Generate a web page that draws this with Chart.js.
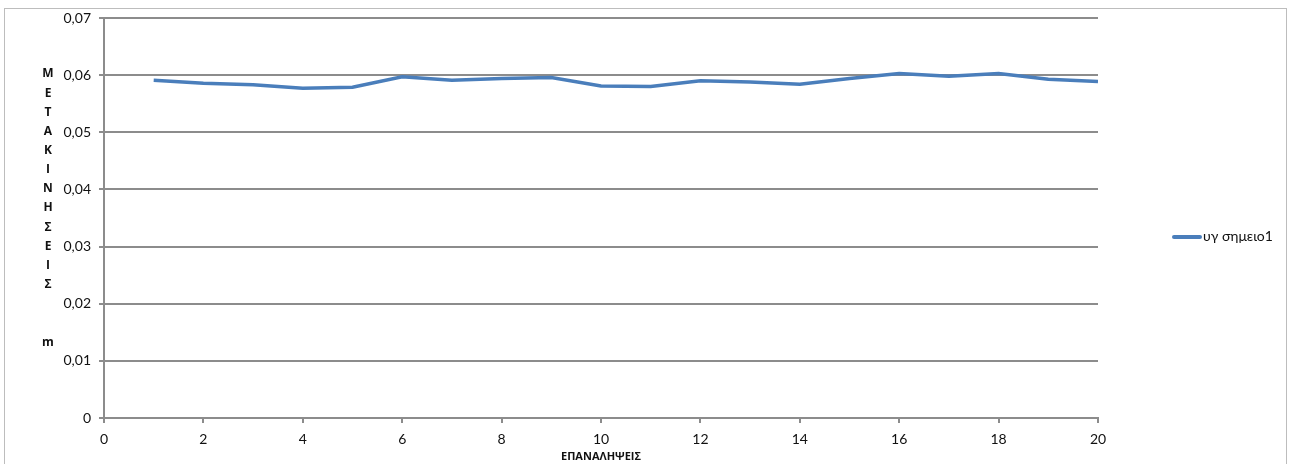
<!DOCTYPE html>
<html>
<head>
<meta charset="utf-8">
<script src="https://cdn.jsdelivr.net/npm/chart.js@4.4.1/dist/chart.umd.min.js"></script>
<style>
  html, body { margin: 0; padding: 0; background: #fff; }
  #wrap { position: relative; width: 1289px; height: 464px; overflow: hidden; }
  #frame { position: absolute; left: 4px; top: 8px; width: 1283px; height: 470px;
           border: 1px solid #bdbdbd; box-sizing: border-box; pointer-events: none; }
  canvas { position: absolute; left: 0; top: 0; }
</style>
</head>
<body>
<div id="wrap">
  <canvas id="c" width="1289" height="464"></canvas>
  <div id="frame"></div>
</div>
<script>
// Iteration numbers and measured displacement per iteration
const iterations = [1, 2, 3, 4, 5, 6, 7, 8, 9, 10, 11, 12, 13, 14, 15, 16, 17, 18, 19, 20];
const displacement = [0.0591, 0.0586, 0.0583, 0.0577, 0.0579, 0.0597, 0.0591, 0.0594, 0.0596, 0.0581,
                      0.0580, 0.0590, 0.0588, 0.0584, 0.0594, 0.0603, 0.0598, 0.0603, 0.0593, 0.0589];
const seriesName = 'υγ σημειο1';
const xTitle = 'ΕΠΑΝΑΛΗΨΕΙΣ';
const yTitle = 'ΜΕΤΑΚΙΝΗΣΕΙΣ  m';

const LINE_BLUE = '#4a7ebb';
const GRID_GRAY = '#8c8c8c';
const FONT = 'Lato, "Open Sans", sans-serif';
const TITLE_FONT = '"Open Sans", Lato, sans-serif';

Chart.defaults.font.family = FONT;
Chart.defaults.color = '#111';

// Stacked vertical axis title, one letter per line
const stackedYTitle = {
  id: 'stackedYTitle',
  afterDraw(chart) {
    const ctx = chart.ctx;
    ctx.save();
    ctx.font = 'bold 12px ' + TITLE_FONT;
    ctx.fillStyle = '#111';
    ctx.textAlign = 'center';
    ctx.textBaseline = 'middle';
    const chars = Array.from(yTitle);
    const step = 19.15;
    const y0 = 74;
    chars.forEach((ch, i) => {
      if (ch.trim()) ctx.fillText(ch, 48, y0 + i * step);
    });
    ctx.restore();
  }
};

// Legend entry to the right of the plot
const sideLegend = {
  id: 'sideLegend',
  afterDraw(chart) {
    const ctx = chart.ctx;
    const ds = chart.data.datasets[0];
    const x = chart.chartArea.right + 75;
    const y = 237;
    ctx.save();
    ctx.strokeStyle = ds.borderColor;
    ctx.lineWidth = 4;
    ctx.lineCap = 'round';
    ctx.beginPath();
    ctx.moveTo(x + 1, y);
    ctx.lineTo(x + 27, y);
    ctx.stroke();
    ctx.font = '14px ' + FONT;
    ctx.fillStyle = '#111';
    ctx.textAlign = 'left';
    ctx.textBaseline = 'middle';
    ctx.fillText(ds.label, x + 30, y - 1);
    ctx.restore();
  }
};

new Chart(document.getElementById('c'), {
  type: 'line',
  data: {
    datasets: [{
      label: seriesName,
      data: iterations.map((it, i) => ({ x: it, y: displacement[i] })),
      borderColor: LINE_BLUE,
      backgroundColor: LINE_BLUE,
      borderWidth: 3.5,
      pointRadius: 0,
      tension: 0,
      fill: false
    }]
  },
  options: {
    responsive: false,
    animation: false,
    layout: { padding: { left: 0, top: 18, right: 191, bottom: 0 } },
    plugins: {
      legend: { display: false },
      tooltip: { enabled: false }
    },
    scales: {
      x: {
        type: 'linear',
        min: 0,
        max: 20,
        afterFit: s => { s.height = 46; },
        ticks: {
          stepSize: 2,
          padding: 8,
          font: { size: 14 },
          maxRotation: 0
        },
        grid: {
          drawOnChartArea: false,
          drawTicks: true,
          tickLength: 5,
          color: GRID_GRAY,
          lineWidth: 2
        },
        border: { color: GRID_GRAY, width: 2 },
        title: {
          display: true,
          text: xTitle,
          font: { family: TITLE_FONT, size: 11, weight: 'bold' },
          padding: { top: 0, bottom: 1 }
        }
      },
      y: {
        min: 0,
        max: 0.07,
        afterFit: s => { s.width = 104; },
        ticks: {
          stepSize: 0.01,
          padding: 8,
          font: { size: 14 },
          callback: v => (v === 0 ? '0' : v.toFixed(2).replace('.', ','))
        },
        grid: {
          color: GRID_GRAY,
          lineWidth: 2,
          tickLength: 5
        },
        border: { color: GRID_GRAY, width: 2 }
      }
    }
  },
  plugins: [stackedYTitle, sideLegend]
});
</script>
</body>
</html>
